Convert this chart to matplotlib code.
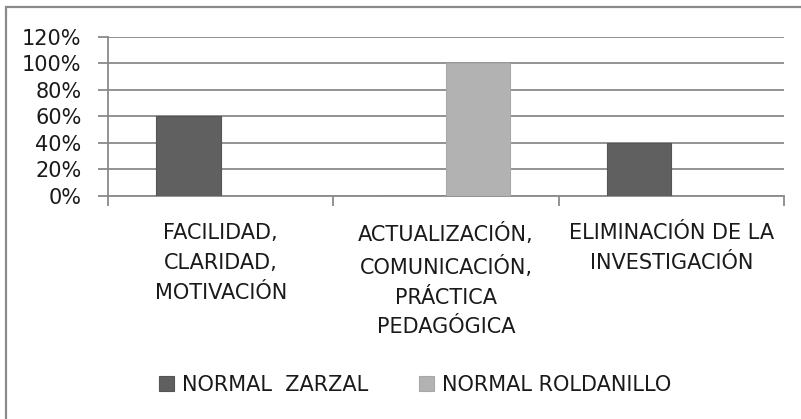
import numpy as np
import matplotlib.pyplot as plt
from matplotlib.patches import Rectangle
from matplotlib.ticker import PercentFormatter

# data
categories = ['FACILIDAD,\nCLARIDAD,\nMOTIVACIÓN',
              'ACTUALIZACIÓN,\nCOMUNICACIÓN,\nPRÁCTICA\nPEDAGÓGICA',
              'ELIMINACIÓN DE LA\nINVESTIGACIÓN']
series_names = ['NORMAL  ZARZAL', 'NORMAL ROLDANILLO']
zarzal = [60, 0, 40]
roldanillo = [0, 100, 0]
y_ticks = [0, 20, 40, 60, 80, 100, 120]

dark = '#606060'
light = '#b2b2b2'
grid_col = '#8a8a8a'

plt.rcParams['font.family'] = ['DejaVu Sans']
plt.rcParams['font.size'] = 15
plt.rcParams['text.color'] = '#1a1a1a'
plt.rcParams['xtick.labelcolor'] = '#1a1a1a'
plt.rcParams['ytick.labelcolor'] = '#1a1a1a'

fig = plt.figure(figsize=(8.01, 4.19), dpi=100)
ax = fig.add_axes([108 / 801, 1 - 195.7 / 419, (784 - 108) / 801, (195.7 - 36.7) / 419])

x = np.arange(len(categories))
w = 1 / 3.5
ax.bar(x - w / 2, zarzal, w, color=dark, edgecolor='#555555', linewidth=0.8,
       label=series_names[0], zorder=3)
ax.bar(x + w / 2, roldanillo, w, color=light, edgecolor='#a8a8a8', linewidth=0.8,
       label=series_names[1], zorder=3)

ax.set_xlim(-0.5, len(categories) - 0.5)
ax.set_ylim(0, 120)
ax.set_yticks(y_ticks)
ax.yaxis.set_major_formatter(PercentFormatter(decimals=0))
ax.yaxis.grid(True, color=grid_col, linewidth=1.3, zorder=0)

# category labels at centres, tick marks at boundaries
ax.set_xticks(x)
ax.set_xticklabels(categories, linespacing=1.6, va='top')
ax.set_xticks(np.arange(len(categories) + 1) - 0.5, minor=True)
ax.tick_params(axis='x', which='major', length=0, pad=20)
ax.tick_params(axis='x', which='minor', length=7, color=grid_col, width=1.3)
ax.tick_params(axis='y', length=7, color=grid_col, width=1.3, pad=12)

for side in ['top', 'right']:
    ax.spines[side].set_visible(False)
for side in ['left', 'bottom']:
    ax.spines[side].set_color(grid_col)
    ax.spines[side].set_linewidth(1.3)

fig.legend(loc='center', bbox_to_anchor=(415 / 801, 1 - 385 / 419), ncol=2,
           frameon=False, handlelength=0.72, handleheight=0.72,
           handletextpad=0.4, columnspacing=2.4, borderaxespad=0)

# outer chart frame (cropped on right and bottom)
fig.patches.append(Rectangle((6 / 801, -0.1), 1.1, 1 - 7 / 419 + 0.1,
                             transform=fig.transFigure, fill=False,
                             edgecolor=grid_col, linewidth=1.6))

fig.savefig('out.png', dpi=100)
